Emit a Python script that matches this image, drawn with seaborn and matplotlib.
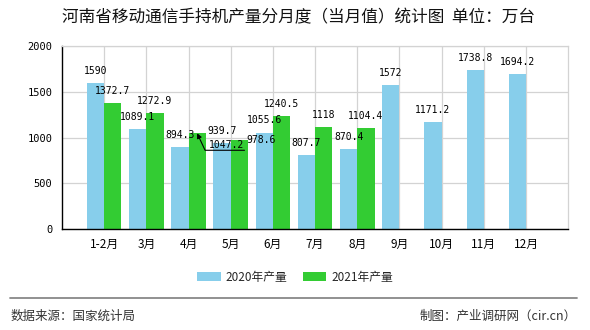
import numpy as np
import pandas as pd
import matplotlib
matplotlib.use("Agg")
import matplotlib.pyplot as plt
import seaborn as sns

months = ['1-2月', '3月', '4月', '5月', '6月', '7月', '8月', '9月', '10月', '11月', '12月']
v2020 = [1590, 1089.1, 894.3, 939.7, 1055.6, 807.7, 870.4, 1572, 1171.2, 1738.8, 1694.2]
v2021 = [1372.7, 1272.9, 1047.2, 978.6, 1240.5, 1118, 1104.4, None, None, None, None]
series = ['2020年产量', '2021年产量']
colors = ['#87CEEB', '#33CC33']
yticks = [0, 500, 1000, 1500, 2000]

rows = []
for m, a, b in zip(months, v2020, v2021):
    rows.append((m, series[0], a))
    if b is not None:
        rows.append((m, series[1], b))
df = pd.DataFrame(rows, columns=['month', 'series', 'value'])

sns.set_style('white')
plt.rcParams['font.family'] = ['Noto Sans CJK SC', 'DejaVu Sans']

fig = plt.figure(figsize=(5.9, 3.3), dpi=100)
ax = fig.add_axes([0.105, 0.305, 0.858, 0.556])

sns.barplot(data=df, x='month', y='value', hue='series', order=months,
            hue_order=series, palette=colors, width=0.82, saturation=1,
            edgecolor='none', linewidth=0, ax=ax, legend=True)

n = len(months)
ax.set_xlim(-1, n)
ax.set_ylim(0, 2000)
ax.set_yticks(yticks)
ax.set_yticklabels([str(t) for t in yticks])
ax.set_xticks(range(n))
ax.set_xticklabels(months)
ax.set_xticks([-1, n], minor=True)
ax.set_xlabel('')
ax.set_ylabel('')

ax.set_axisbelow(True)
ax.grid(True, color='#d3d3d3', linewidth=0.9)
for s in ['left', 'bottom']:
    ax.spines[s].set_color('black')
    ax.spines[s].set_linewidth(1.0)
for s in ['top', 'right']:
    ax.spines[s].set_color('#d3d3d3')
    ax.spines[s].set_linewidth(0.9)
ax.tick_params(axis='both', which='both', direction='out', length=4, width=1,
               color='black', labelsize=8.5, colors='black')
ax.tick_params(axis='y', pad=3)
ax.tick_params(axis='x', pad=2)
for lab in ax.get_yticklabels():
    lab.set_fontfamily(['DejaVu Sans Mono'])
    lab.set_fontsize(7.5)

# value labels
special = {(1, 2): (21.4, -10.8), (1, 3): (16, -2.7)}
for hi, cont in enumerate(ax.containers):
    for bar in cont:
        h = bar.get_height()
        if h is None or np.isnan(h):
            continue
        cx = bar.get_x() + bar.get_width() / 2
        ci = int(round(cx))
        txt = f'{h:g}'
        off = special.get((hi, ci), (0, 6.5))
        if (hi, ci) == (1, 2):
            ax.annotate(txt, xy=(cx, h), xytext=off, textcoords='offset points',
                        ha='center', va='baseline', fontsize=7,
                        family=['DejaVu Sans Mono'], color='black',
                        arrowprops=dict(arrowstyle='-|>', color='black', lw=0.8,
                                        shrinkA=0, shrinkB=0, patchA=None,
                                        relpos=(1, 0), mutation_scale=7,
                                        connectionstyle='angle,angleA=0,angleB=-65,rad=0'))
        else:
            ax.annotate(txt, xy=(cx, h), xytext=off, textcoords='offset points',
                        ha='center', va='baseline', fontsize=7,
                        family=['DejaVu Sans Mono'], color='black')

leg = ax.legend(loc='center', bbox_to_anchor=(295 / 590, 1 - 277 / 330),
                bbox_transform=fig.transFigure, ncol=2, frameon=False,
                fontsize=8.5, handlelength=2.0, handleheight=0.8,
                columnspacing=1.3, handletextpad=0.4)

fig.text(298 / 590, 1 - 18 / 330, '河南省移动通信手持机产量分月度（当月值）统计图  单位：万台',
         ha='center', va='center', fontsize=12, color='#111111')

fig.add_artist(plt.Line2D([10 / 590, 577 / 590], [1 - 298 / 330, 1 - 298 / 330],
                          transform=fig.transFigure, color='#888888', lw=1.3))
fig.text(11 / 590, 1 - 316 / 330, '数据来源：国家统计局', ha='left', va='center',
         fontsize=9, color='#333333')
fig.text(577 / 590, 1 - 316 / 330, '制图：产业调研网（cir.cn）', ha='right', va='center',
         fontsize=9, color='#333333')

fig.savefig('out.png', dpi=100, facecolor='white')
